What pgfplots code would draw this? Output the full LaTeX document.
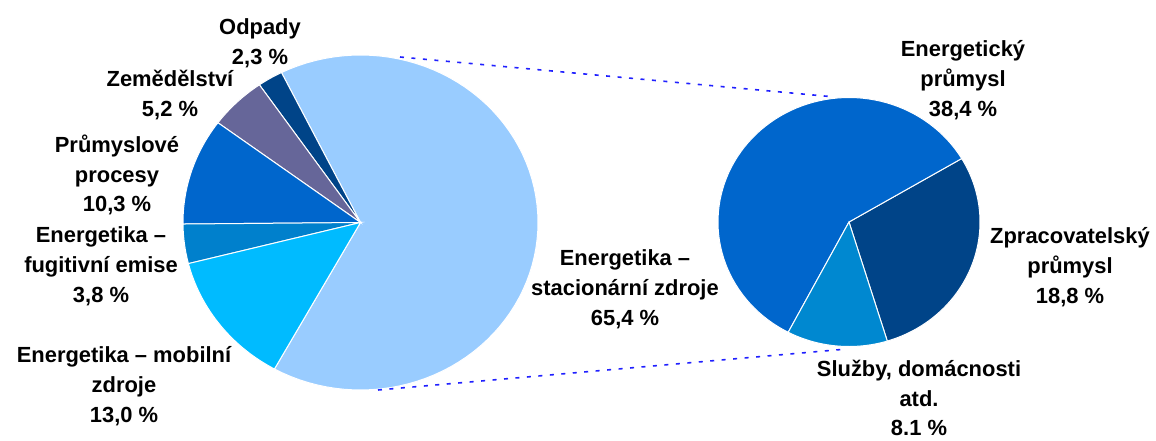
\documentclass[border=0pt]{standalone}
\usepackage{pgfplots}
\pgfplotsset{compat=1.18}
\usepackage{fontspec}
\setmainfont{Liberation Sans}
\definecolor{cBig}{HTML}{99CCFF}
\definecolor{cOdp}{HTML}{004488}
\definecolor{cZem}{HTML}{666699}
\definecolor{cPrum}{HTML}{0066CC}
\definecolor{cFug}{HTML}{0080CC}
\definecolor{cMob}{HTML}{00BBFF}
\definecolor{cEnP}{HTML}{0066CC}
\definecolor{cZpr}{HTML}{004488}
\definecolor{cSlu}{HTML}{0088D0}
\definecolor{cLine}{HTML}{2020FF}
\tikzset{lbl/.style={font=\fontsize{22}{30}\selectfont\bfseries, align=center, text=black, inner sep=0pt}}
% left pie: values in %, counterclockwise from start angle
\def\Ls{-119}
\pgfmathsetmacro{\La}{\Ls+65.4*3.6}% stacionarni zdroje
\pgfmathsetmacro{\Lb}{\La+2.3*3.6}% odpady
\pgfmathsetmacro{\Lc}{\Lb+5.2*3.6}% zemedelstvi
\pgfmathsetmacro{\Ld}{\Lc+10.3*3.6}% prumyslove procesy
\pgfmathsetmacro{\Le}{\Ld+3.8*3.6}% fugitivni emise
\pgfmathsetmacro{\Lf}{\Le+13.0*3.6}% mobilni zdroje
% right pie: breakdown of 65.3 %
\def\Rs{-73}
\pgfmathsetmacro{\Ra}{\Rs+18.8/65.3*360}% zpracovatelsky
\pgfmathsetmacro{\Rb}{\Ra+38.4/65.3*360}% energeticky
\pgfmathsetmacro{\Rc}{\Rb+8.1/65.3*360}% sluzby
\newcommand{\slice}[7]{%
  \addplot[fill=#7, draw=white, line width=1bp, domain=#5:#6, samples=80]
    ({#1+#3*cos(x)},{#2-#4*sin(x)}) -- (axis cs:#1,#2) -- cycle;
}
\begin{document}
\begin{tikzpicture}
\begin{axis}[
  scale only axis, width=1156bp, height=441bp,
  xmin=0, xmax=1156, ymin=0, ymax=441, y dir=reverse,
  hide axis, clip=false,
]
\slice{360.5}{222.5}{177.5}{167.5}{\Ls}{\La}{cBig}
\slice{360.5}{222.5}{177.5}{167.5}{\La}{\Lb}{cOdp}
\slice{360.5}{222.5}{177.5}{167.5}{\Lb}{\Lc}{cZem}
\slice{360.5}{222.5}{177.5}{167.5}{\Lc}{\Ld}{cPrum}
\slice{360.5}{222.5}{177.5}{167.5}{\Ld}{\Le}{cFug}
\slice{360.5}{222.5}{177.5}{167.5}{\Le}{\Lf}{cMob}
\slice{849}{222}{131}{124.5}{\Rs}{\Ra}{cZpr}
\slice{849}{222}{131}{124.5}{\Ra}{\Rb}{cEnP}
\slice{849}{222}{131}{124.5}{\Rb}{\Rc}{cSlu}
\addplot[cLine, line width=1.6bp, dash pattern=on 4bp off 7.5bp] coordinates {(400,57) (835,97)};
\addplot[cLine, line width=1.6bp, dash pattern=on 4bp off 7.5bp] coordinates {(378,390) (847,349)};
\node[lbl] at (axis cs:260,43) {Odpady\\2,3 \%};
\node[lbl] at (axis cs:170,95) {Zemědělství\\5,2 \%};
\node[lbl] at (axis cs:117,175) {Průmyslové\\procesy\\10,3 \%};
\node[lbl] at (axis cs:101,266) {Energetika –\\fugitivní emise\\3,8 \%};
\node[lbl] at (axis cs:124,386) {Energetika – mobilní\\zdroje\\13,0 \%};
\node[lbl] at (axis cs:625,289) {Energetika –\\stacionární zdroje\\65,4 \%};
\node[lbl] at (axis cs:963,80) {Energetický\\průmysl\\38,4 \%};
\node[lbl] at (axis cs:1070,267) {Zpracovatelský\\průmysl\\18,8 \%};
\node[lbl] at (axis cs:919,398) {Služby, domácnosti\\atd.\\8.1 \%};
\end{axis}
\pgfresetboundingbox
\useasboundingbox (0,0) rectangle (1156bp,441bp);
\end{tikzpicture}
\end{document}
